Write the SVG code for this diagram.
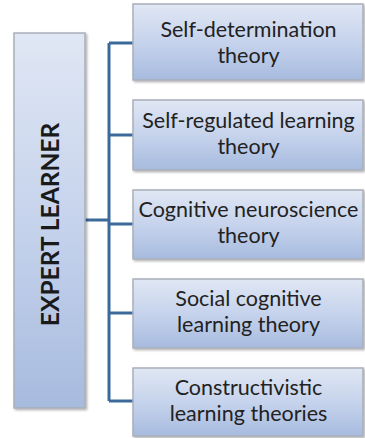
<svg xmlns="http://www.w3.org/2000/svg" width="365" height="438" viewBox="0 0 365 438">
<defs>
<linearGradient id="g" x1="0" y1="0" x2="0" y2="1">
<stop offset="0" stop-color="#e0e7f4"/>
<stop offset="0.5" stop-color="#c6d3ec"/>
<stop offset="1" stop-color="#a7bbdf"/>
</linearGradient>
<filter id="sh" x="-10%" y="-10%" width="120%" height="120%">
<feDropShadow dx="1.5" dy="1.5" stdDeviation="1" flood-color="#000" flood-opacity="0.3"/>
</filter>
<style>
.box{fill:url(#g);stroke:#a9afb9;stroke-width:1.5;filter:url(#sh)}
.t{font-family:Lato,"Open Sans",sans-serif;font-size:21.5px;fill:#222222;text-anchor:middle}
.title{font-family:Lato,"Open Sans",sans-serif;font-size:24.5px;font-weight:bold;fill:#1a1a1a;text-anchor:middle}
.c{stroke:#3b6a9a;stroke-width:3;fill:none}
</style>
</defs>
<rect width="365" height="438" fill="#ffffff"/>
<g id="connectors">
<path class="c" d="M85 220 H109 M109 43 V401 M109 43 H133 M109 135 H133 M109 224 H133 M109 313 H133 M109 401 H133"/>
</g>
<g id="expert-learner">
<rect class="box" x="14" y="33" width="71" height="375"/>
<text class="title" transform="translate(58.5 224.5) rotate(-90)">EXPERT LEARNER</text>
</g>
<g id="self-determination">
<rect class="box" x="133" y="4" width="230" height="76"/>
<text class="t" x="248.5" y="36.5">Self-determination</text>
<text class="t" x="248.5" y="62.5">theory</text>
</g>
<g id="self-regulated">
<rect class="box" x="133" y="100" width="230" height="70"/>
<text class="t" x="248.5" y="127.5">Self-regulated learning</text>
<text class="t" x="248.5" y="153.5">theory</text>
</g>
<g id="cognitive-neuroscience">
<rect class="box" x="133" y="190" width="230" height="69"/>
<text class="t" x="248.5" y="216.5">Cognitive neuroscience</text>
<text class="t" x="248.5" y="242.5">theory</text>
</g>
<g id="social-cognitive">
<rect class="box" x="133" y="279" width="230" height="69"/>
<text class="t" x="248.5" y="305.5">Social cognitive</text>
<text class="t" x="248.5" y="331.5">learning theory</text>
</g>
<g id="constructivistic">
<rect class="box" x="133" y="368" width="230" height="68"/>
<text class="t" x="248.5" y="394.5">Constructivistic</text>
<text class="t" x="248.5" y="420.5">learning theories</text>
</g>
</svg>
